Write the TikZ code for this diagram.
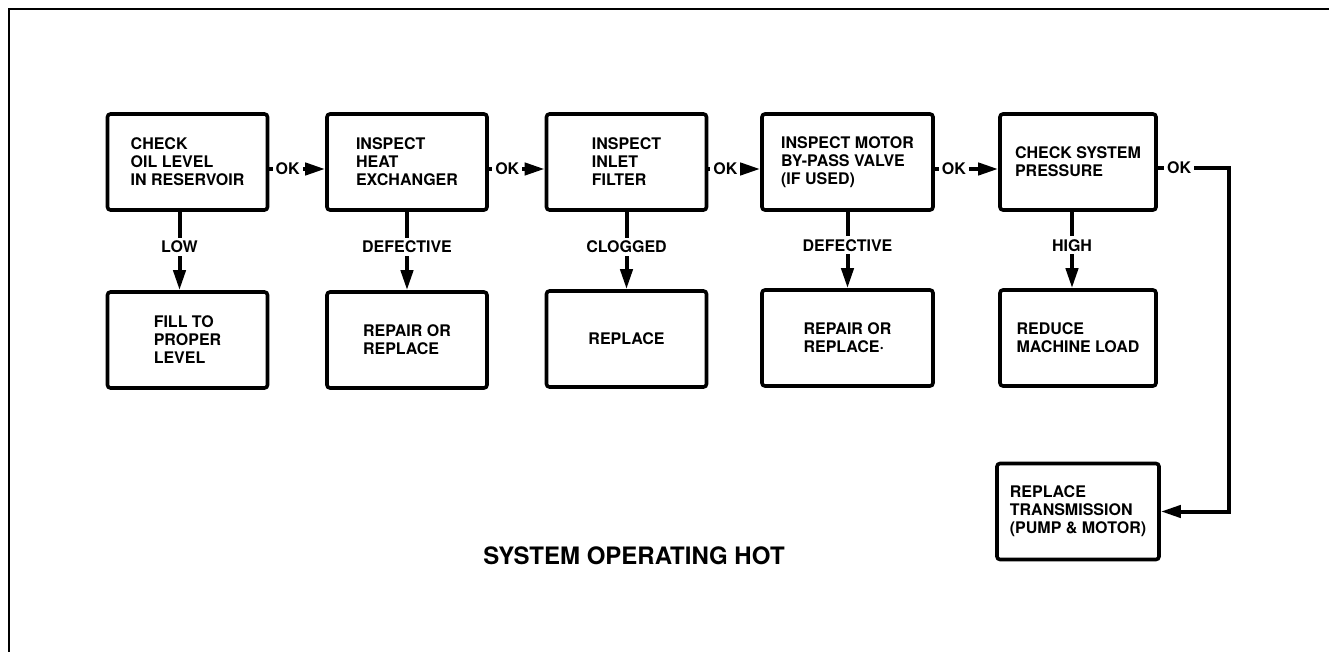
\documentclass[tikz,border=0pt]{standalone}
\usepackage{fontspec}
\setmainfont{TeX Gyre Heros}
\usetikzlibrary{arrows.meta, positioning}

\begin{document}
\begin{tikzpicture}[x=0.5pt, y=-0.5pt,
  box/.style={draw, line width=1.8pt, rounded corners=1.5pt, minimum width=80pt,
    minimum height=48pt, align=left, inner sep=0pt, font=\fontsize{8}{9}\selectfont\bfseries},
  flow/.style={line width=2pt, -{Triangle[length=10pt, width=6pt]}},
  lbl/.style={fill=white, inner sep=1.5pt, font=\fontsize{8}{9}\selectfont\bfseries}]

  \useasboundingbox (0,0) rectangle (1329,652);

  % frame
  \draw[line width=0.8pt] (1329,9) -- (9,9) -- (9,652);

  % checks (top row)
  \node[box] (oil) at (187.5,162) {CHECK\\OIL LEVEL\\IN RESERVOIR};
  \node[box] (heat) at (407,162) {INSPECT\\HEAT\\EXCHANGER};
  \node[box] (inlet) at (626.5,162) {INSPECT\\INLET\\FILTER};
  \node[box, minimum width=85.5pt] (bypass) at (847.5,162) {INSPECT MOTOR\\BY-PASS VALVE\\(IF USED)};
  \node[box, minimum width=78pt] (press) at (1078,162) {CHECK SYSTEM\\PRESSURE};

  % remedies (bottom row)
  \node[box] (fill) at (187.5,340) {FILL TO\\PROPER\\LEVEL};
  \node[box] (repheat) at (407,340) {REPAIR OR\\REPLACE};
  \node[box] (repfilter) at (626.5,339) {REPLACE};
  \node[box, minimum width=85.5pt] (repvalve) at (847.5,338) {REPAIR OR\\REPLACE·};
  \node[box, minimum width=78pt] (load) at (1078,338) {REDUCE\\MACHINE LOAD};
  \node[box, minimum width=81pt] (trans) at (1078,511.5) {REPLACE\\TRANSMISSION\\(PUMP \& MOTOR)};

  % title
  \node[font=\fontsize{12}{14}\selectfont\bfseries] (title) at (634,556) {SYSTEM OPERATING HOT};

  % OK chain
  \draw[flow] ([yshift=-3.5pt]oil.east) -- node[lbl, pos=.33] {OK} ([yshift=-3.5pt]heat.west);
  \draw[flow] ([yshift=-3.5pt]heat.east) -- node[lbl, pos=.33] {OK} ([yshift=-3.5pt]inlet.west);
  \draw[flow] ([yshift=-3.5pt]inlet.east) -- node[lbl, pos=.33] {OK} ([yshift=-3.5pt]bypass.west);
  \draw[flow] ([yshift=-3.5pt]bypass.east) -- node[lbl, pos=.3] {OK} ([yshift=-3.5pt]press.west);
  \coordinate (turn) at (1229,0);
  \draw[flow] ([yshift=-3pt]press.east) -- node[lbl, pos=.3] {OK}
    ([yshift=-3pt]press.east -| turn) |- (trans.east);

  % faults
  \draw[flow] ([xshift=-4pt]oil.south) -- node[lbl, pos=.45] {LOW} ([xshift=-4pt]fill.north);
  \draw[flow] (heat) -- node[lbl, pos=.45] {DEFECTIVE} (repheat);
  \draw[flow] (inlet) -- node[lbl, pos=.45] {CLOGGED} (repfilter);
  \draw[flow] (bypass) -- node[lbl, pos=.44] {DEFECTIVE} (repvalve);
  \draw[flow] ([xshift=-3pt]press.south) -- node[lbl, pos=.44] {HIGH} ([xshift=-3pt]load.north);

\end{tikzpicture}
\end{document}
